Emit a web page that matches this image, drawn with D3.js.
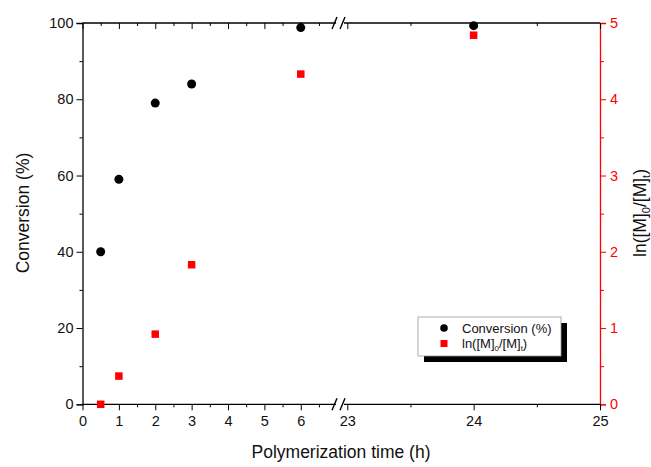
<!DOCTYPE html>
<html><head><meta charset="utf-8">
<script src="https://cdn.jsdelivr.net/npm/d3@7"></script>
<style>body{margin:0;background:#fff}svg{display:block;font-family:"Liberation Sans",Arial,sans-serif}</style>
</head><body><svg id="c" width="651" height="467"></svg>
<script>
const times = [0.5, 1, 2, 3, 6, 24];
const conversion = [40, 59, 79, 84, 98.8, 99.3];
const lnRatio = [0.0, 0.37, 0.92, 1.83, 4.33, 4.84];
const leftTicks = [0, 20, 40, 60, 80, 100];
const rightTicks = [0, 1, 2, 3, 4, 5];
const xTicksA = [0, 1, 2, 3, 4, 5, 6];
const xTicksB = [23, 24, 25];

const svg = d3.select("#c");
const L = 82.5, R = 600, T = 23, B = 404.3;
const xa = d3.scaleLinear().domain([0, 6.9]).range([L, 333.5]);
const xb = d3.scaleLinear().domain([23, 25]).range([347.3, R]);
const X = t => t <= 7 ? xa(t) : xb(t);
const yL = d3.scaleLinear().domain([0, 100]).range([B, T]);
const yR = d3.scaleLinear().domain([0, 5]).range([B, T]);
const red = "#ff0000";

const g = svg.append("g");
g.append("line").attr("x1", L).attr("x2", R).attr("y1", B).attr("y2", B).attr("stroke", "#000").attr("stroke-width", 1.3);
g.append("line").attr("x1", L).attr("x2", R).attr("y1", T).attr("y2", T).attr("stroke", "#000").attr("stroke-width", 1.3);

// left axis
const la = d3.axisLeft(yL).tickValues(leftTicks).tickSize(6).tickPadding(3);
const lg = svg.append("g").attr("transform", `translate(${L},0)`).call(la);
lg.selectAll("text").attr("font-size", 14.5).attr("fill", "#111").attr("font-family", "Liberation Sans, Arial");
lg.select(".domain").attr("stroke-width", 1.3);
const lm = d3.axisLeft(yL).tickValues(d3.range(10, 100, 20)).tickSize(3).tickFormat("");
svg.append("g").attr("transform", `translate(${L},0)`).call(lm).select(".domain").remove();

// right axis
const ra = d3.axisRight(yR).tickValues(rightTicks).tickSize(6).tickPadding(4).tickFormat(d3.format("d"));
const rg = svg.append("g").attr("transform", `translate(${R},0)`).call(ra);
rg.selectAll("text").attr("font-size", 14.5).attr("fill", red).attr("font-family", "Liberation Sans, Arial");
rg.selectAll("line").attr("stroke", red);
rg.select(".domain").attr("stroke", red).attr("stroke-width", 1.3);
const rm = d3.axisRight(yR).tickValues(d3.range(0.5, 5, 1)).tickSize(4).tickFormat("");
const rmg = svg.append("g").attr("transform", `translate(${R},0)`).call(rm);
rmg.select(".domain").remove(); rmg.selectAll("line").attr("stroke", red);

// bottom axes (two segments)
function bottom(scale, major, minor) {
  const a = d3.axisBottom(scale).tickValues(major).tickSize(6).tickPadding(5).tickFormat(d3.format("d"));
  const ag = svg.append("g").attr("transform", `translate(0,${B})`).call(a);
  ag.select(".domain").remove();
  ag.selectAll("text").attr("font-size", 14.5).attr("fill", "#111").attr("font-family", "Liberation Sans, Arial");
  const m = d3.axisBottom(scale).tickValues(minor).tickSize(3).tickFormat("");
  svg.append("g").attr("transform", `translate(0,${B})`).call(m).select(".domain").remove();
  const t = d3.axisBottom(scale).tickValues(major).tickSize(6).tickFormat("");
  svg.append("g").attr("transform", `translate(0,${T})`).call(t).select(".domain").remove();
  const tm = d3.axisBottom(scale).tickValues(minor).tickSize(3).tickFormat("");
  svg.append("g").attr("transform", `translate(0,${T})`).call(tm).select(".domain").remove();
}
bottom(xa, xTicksA, [0.5, 1.5, 2.5, 3.5, 4.5, 5.5, 6.5]);
bottom(xb, xTicksB, [23.5, 24.5]);

// break marks
[T, B].forEach(yy => {
  svg.append("rect").attr("x", 336).attr("y", yy - 3).attr("width", 8).attr("height", 6).attr("fill", "#fff");
  [334.5, 342.5].forEach(x0 => {
    svg.append("line").attr("x1", x0 - 2.5).attr("y1", yy + 6).attr("x2", x0 + 2.5).attr("y2", yy - 6)
      .attr("stroke", "#000").attr("stroke-width", 1.4);
  });
});

// data
svg.append("g").selectAll("circle").data(times.map((t, i) => [t, conversion[i]])).join("circle")
  .attr("cx", d => X(d[0])).attr("cy", d => yL(d[1])).attr("r", 4.5).attr("fill", "#000");
const s = 7.5;
svg.append("g").selectAll("rect").data(times.map((t, i) => [t, lnRatio[i]])).join("rect")
  .attr("x", d => X(d[0]) - s / 2).attr("y", d => yR(d[1]) - s / 2).attr("width", s).attr("height", s).attr("fill", red);

// axis titles
svg.append("text").attr("transform", "translate(29,213) rotate(-90)").attr("text-anchor", "middle")
  .attr("font-size", 17.5).attr("fill", "#111").text("Conversion (%)");
svg.append("text").attr("x", 341).attr("y", 458).attr("text-anchor", "middle")
  .attr("font-size", 17.5).attr("fill", "#111").text("Polymerization time (h)");
const rt = svg.append("text").attr("transform", "translate(646,213) rotate(-90)").attr("text-anchor", "middle")
  .attr("font-size", 17.5).attr("fill", "#111");
rt.append("tspan").text("ln([M]");
rt.append("tspan").attr("font-size", 11).attr("dy", 4).text("0");
rt.append("tspan").attr("dy", -4).text("/[M]");
rt.append("tspan").attr("font-size", 11).attr("dy", 4).text("t");
rt.append("tspan").attr("dy", -4).text(")");

// legend
const lx = 418, ly = 317, lw = 143, lh = 39;
svg.append("rect").attr("x", lx + 6).attr("y", ly + 6).attr("width", lw).attr("height", lh).attr("fill", "#000");
svg.append("rect").attr("x", lx).attr("y", ly).attr("width", lw).attr("height", lh).attr("fill", "#fff").attr("stroke", "#999").attr("stroke-width", 0.8);
svg.append("circle").attr("cx", 444).attr("cy", 328).attr("r", 3.8).attr("fill", "#000");
svg.append("rect").attr("x", 440.5).attr("y", 340).attr("width", 7).attr("height", 7).attr("fill", red);
svg.append("text").attr("x", 462).attr("y", 332.5).attr("font-size", 13).attr("fill", "#111").text("Conversion (%)");
const lt = svg.append("text").attr("x", 462).attr("y", 347.5).attr("font-size", 13).attr("fill", "#111");
lt.append("tspan").text("ln([M]");
lt.append("tspan").attr("font-size", 8).attr("dy", 3).text("0");
lt.append("tspan").attr("dy", -3).text("/[M]");
lt.append("tspan").attr("font-size", 8).attr("dy", 3).text("t");
lt.append("tspan").attr("dy", -3).text(")");
</script></body></html>
